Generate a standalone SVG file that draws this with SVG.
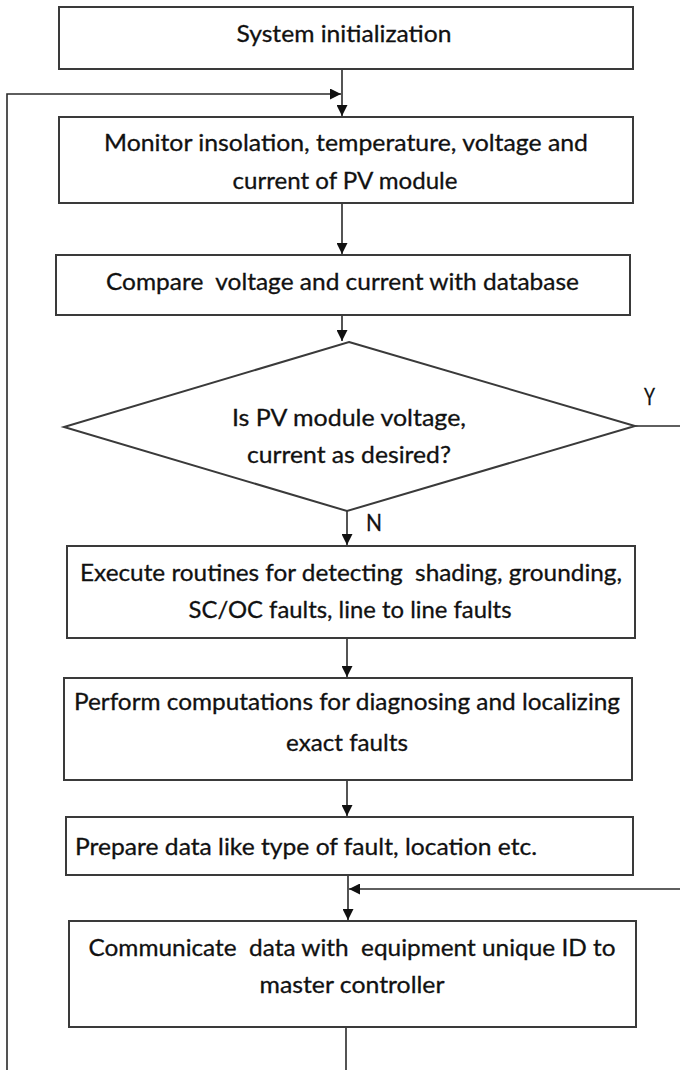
<svg xmlns="http://www.w3.org/2000/svg" width="680" height="1070" viewBox="0 0 680 1070">
  <style>
    .box { fill: #ffffff; stroke: #3a3a3a; stroke-width: 2; }
    .wire { fill: none; stroke: #2a2a2a; stroke-width: 1.6; }
    .lbl { font-family: Lato, "Open Sans", "Liberation Sans", sans-serif; font-size: 23.5px; fill: #111; stroke: #111; stroke-width: 0.3; }
    .mid { text-anchor: middle; }
  </style>
  <defs>
    <marker id="arrow" viewBox="0 0 10 10" refX="10" refY="5" markerWidth="11" markerHeight="11" markerUnits="userSpaceOnUse" orient="auto">
      <path d="M0,0 L10,5 L0,10 Z" fill="#111"/>
    </marker>
  </defs>
  <rect width="680" height="1070" fill="#ffffff"/>

  <g id="connectors">
    <line class="wire" x1="342" y1="69" x2="342" y2="116" marker-end="url(#arrow)"/>
    <polyline class="wire" points="7,1070 7,94 341,94" marker-end="url(#arrow)"/>
    <line class="wire" x1="342" y1="203" x2="342" y2="254" marker-end="url(#arrow)"/>
    <line class="wire" x1="342" y1="315" x2="342" y2="341" marker-end="url(#arrow)"/>
    <line class="wire" x1="347" y1="511" x2="347" y2="545" marker-end="url(#arrow)"/>
    <line class="wire" x1="347" y1="638" x2="347" y2="677" marker-end="url(#arrow)"/>
    <line class="wire" x1="347" y1="780" x2="347" y2="816" marker-end="url(#arrow)"/>
    <line class="wire" x1="348" y1="875" x2="348" y2="920" marker-end="url(#arrow)"/>
    <line class="wire" x1="635" y1="426" x2="680" y2="426"/>
    <line class="wire" x1="680" y1="889" x2="349" y2="889" marker-end="url(#arrow)"/>
    <line class="wire" x1="346" y1="1027" x2="346" y2="1070"/>
    <text class="lbl" x="644" y="405" textLength="11" lengthAdjust="spacingAndGlyphs">Y</text>
    <text class="lbl" x="366" y="531" textLength="16" lengthAdjust="spacingAndGlyphs">N</text>
  </g>

  <g id="init">
    <rect class="box" x="59" y="7" width="574" height="62"/>
    <text class="lbl mid" x="344" y="42" textLength="215" lengthAdjust="spacingAndGlyphs">System initialization</text>
  </g>

  <g id="monitor">
    <rect class="box" x="59" y="117" width="574" height="86"/>
    <text class="lbl mid" x="346" y="151" textLength="484" lengthAdjust="spacingAndGlyphs">Monitor insolation, temperature, voltage and</text>
    <text class="lbl mid" x="345" y="189" textLength="225" lengthAdjust="spacingAndGlyphs">current of PV module</text>
  </g>

  <g id="compare">
    <rect class="box" x="56" y="255" width="574" height="60"/>
    <text class="lbl mid" x="342.5" y="290" textLength="473" lengthAdjust="spacingAndGlyphs" xml:space="preserve">Compare  voltage and current with database</text>
  </g>

  <g id="decision">
    <polygon class="box" points="349,342 635,426 347,511 64,427"/>
    <text class="lbl mid" x="349" y="426" textLength="234" lengthAdjust="spacingAndGlyphs">Is PV module voltage,</text>
    <text class="lbl mid" x="349" y="463" textLength="204" lengthAdjust="spacingAndGlyphs">current as desired?</text>
  </g>

  <g id="execute">
    <rect class="box" x="67" y="546" width="568" height="92"/>
    <text class="lbl mid" x="351" y="581" textLength="542" lengthAdjust="spacingAndGlyphs" xml:space="preserve">Execute routines for detecting  shading, grounding,</text>
    <text class="lbl mid" x="350" y="618" textLength="323" lengthAdjust="spacingAndGlyphs">SC/OC faults, line to line faults</text>
  </g>

  <g id="perform">
    <rect class="box" x="64" y="678" width="568" height="102"/>
    <text class="lbl mid" x="347" y="710" textLength="546" lengthAdjust="spacingAndGlyphs">Perform computations for diagnosing and localizing</text>
    <text class="lbl mid" x="347" y="751" textLength="122" lengthAdjust="spacingAndGlyphs">exact faults</text>
  </g>

  <g id="prepare">
    <rect class="box" x="66" y="817" width="567" height="58"/>
    <text class="lbl" x="75" y="855" textLength="462" lengthAdjust="spacingAndGlyphs">Prepare data like type of fault, location etc.</text>
  </g>

  <g id="communicate">
    <rect class="box" x="69" y="921" width="567" height="106"/>
    <text class="lbl mid" x="352" y="956" textLength="527" lengthAdjust="spacingAndGlyphs" xml:space="preserve">Communicate  data with  equipment unique ID to</text>
    <text class="lbl mid" x="352" y="993" textLength="185" lengthAdjust="spacingAndGlyphs">master controller</text>
  </g>
</svg>
